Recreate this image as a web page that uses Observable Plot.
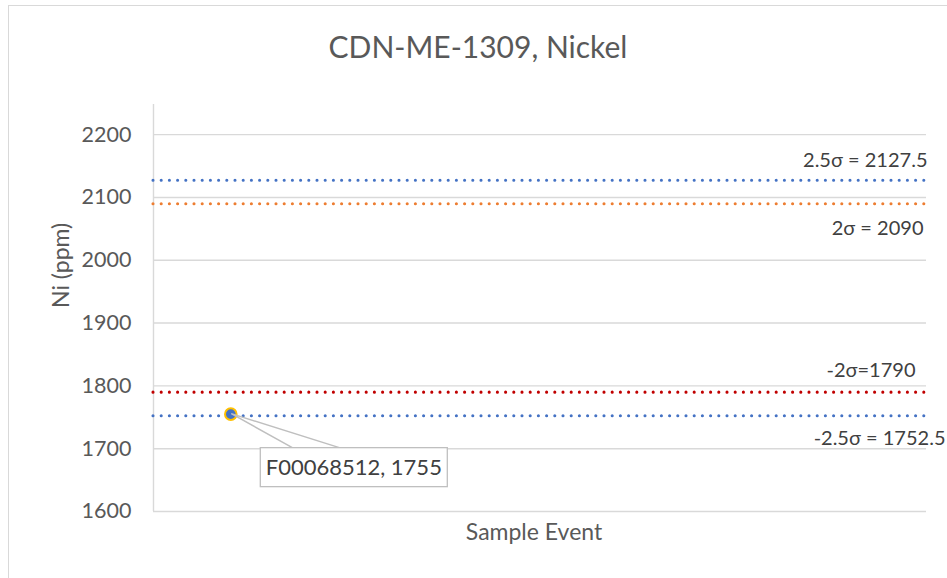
<!DOCTYPE html>
<html>
<head>
<meta charset="utf-8">
<script src="https://cdn.jsdelivr.net/npm/d3@7"></script>
<script src="https://cdn.jsdelivr.net/npm/@observablehq/plot@0.6"></script>
<style>
  html, body { margin: 0; padding: 0; background: #fff; }
  #wrap { position: relative; width: 947px; height: 578px; overflow: hidden; }
  #border { position: absolute; left: 8px; top: 5px; width: 1200px; height: 1200px; border: 1.5px solid #D9D9D9; box-sizing: border-box; pointer-events: none; }
  #chart { position: absolute; left: 0; top: 0; }
</style>
</head>
<body>
<div id="wrap"><div id="border"></div><div id="chart"></div></div>
<script>
// ---- data ----
const chartTitle = "CDN-ME-1309, Nickel";
const yTitle = "Ni (ppm)";
const xTitle = "Sample Event";
const yTicks = [1600, 1700, 1800, 1900, 2000, 2100, 2200];
const limitLabels = ["2.5σ = 2127.5", "2σ = 2090", "-2σ=1790", "-2.5σ = 1752.5"];
const limitValues = [2127.5, 2090, 1790, 1752.5];
const limitColors = ["#4472C4", "#ED7D31", "#C00000", "#4472C4"];
const sampleIds = ["F00068512"];
const sampleEvents = [1];
const sampleValues = [1755];

// ---- layout (pixel offsets) ----
const labelOffsets = [[1, -20], [-3, 25], [-11, -22], [19, 23]];
const font = "Lato, 'Open Sans', sans-serif";

const limits = limitValues.map((v, i) => ({value: v, label: limitLabels[i], color: limitColors[i]}));
const samples = sampleValues.map((v, i) => ({id: sampleIds[i], x: sampleEvents[i], value: v}));

const plot = Plot.plot({
  width: 947,
  height: 578,
  marginLeft: 153,
  marginRight: 21,
  marginTop: 104,
  marginBottom: 67,
  style: {fontFamily: font, fontSize: "21.5px", color: "#595959", background: "transparent", overflow: "visible"},
  x: {domain: [0.5, 5.5], axis: null},
  y: {domain: [1600, 2248], ticks: yTicks, tickFormat: d => String(d), tickSize: 0, tickPadding: 22, label: null},
  marks: [
    Plot.ruleY(yTicks, {stroke: "#D9D9D9", strokeWidth: 1.4}),
    Plot.ruleX([0.5], {stroke: "#D9D9D9", strokeWidth: 1.4}),
    Plot.ruleY(limits, {y: "value", stroke: "color", strokeWidth: 3.1, strokeDasharray: "0 8.2", strokeLinecap: "round"}),
    ...limits.map((d, i) => Plot.text([d], {
      x: () => 5.5, y: "value", text: "label", textAnchor: "end",
      dx: labelOffsets[i][0], dy: labelOffsets[i][1],
      fill: "#404040", fontSize: 20
    })),
    Plot.dot(samples, {x: "x", y: "value", r: 5.8, fill: "#4472C4", stroke: "#FFC000", strokeWidth: 2}),
    Plot.text([chartTitle], {text: d => d, frameAnchor: "top", lineAnchor: "middle", dy: -56, dx: -62, fontSize: 30, fontWeight: 400, fill: "#595959"}),
    Plot.text([yTitle], {text: d => d, frameAnchor: "left", lineAnchor: "middle", dx: -92, rotate: -90, fontSize: 23, fill: "#595959"}),
    Plot.text([xTitle], {text: d => d, frameAnchor: "bottom", lineAnchor: "middle", dy: 21, dx: -6, fontSize: 23, fill: "#595959"})
  ]
});

document.getElementById("chart").appendChild(plot);

// ---- callout label for the sample point, positioned through the plot's scales ----
const sx = plot.scale("x"), sy = plot.scale("y");
const svg = d3.select(plot);
samples.forEach(d => {
  const px = sx.apply(d.x), py = sy.apply(d.value);
  const g = svg.append("g");
  const top = py + 34, bottom = py + 73, left = px + 30, right = px + 217;
  g.append("path")
    .attr("d", `M${px + 62},${top} L${px + 1},${py} L${px + 109},${top}`)
    .attr("fill", "none").attr("stroke", "#BFBFBF").attr("stroke-width", 1.5);
  g.append("rect")
    .attr("x", left).attr("y", top).attr("width", right - left).attr("height", bottom - top)
    .attr("fill", "#fff").attr("stroke", "#BFBFBF").attr("stroke-width", 1.3);
  g.append("text")
    .attr("x", (left + right) / 2).attr("y", (top + bottom) / 2)
    .attr("text-anchor", "middle").attr("dy", "0.35em")
    .attr("font-family", font).attr("font-size", 22).attr("fill", "#404040")
    .text(`${d.id}, ${d.value}`);
});
</script>
</body>
</html>
